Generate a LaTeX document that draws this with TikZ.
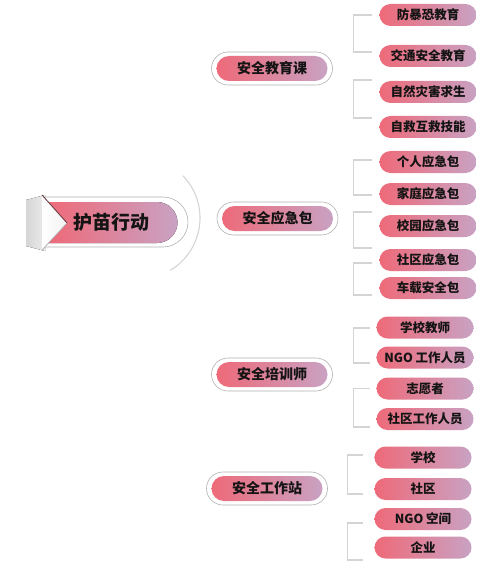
\documentclass[tikz,border=0pt]{standalone}
\usepackage{fontspec}
\setmainfont{Noto Sans CJK SC}
\usetikzlibrary{shapes.misc,calc}
\definecolor{mpink}{HTML}{EE6A79}
\definecolor{mmauve}{HTML}{C9A2C3}
\definecolor{mring}{HTML}{B0B0B0}
\definecolor{mline}{HTML}{D4D4D4}
\definecolor{mtext}{HTML}{141414}
\definecolor{mflap}{HTML}{D6D6D6}
\definecolor{medge}{HTML}{6B3A3E}

\begin{document}
\begin{tikzpicture}[x=1pt,y=-1pt, every node/.style={font=\bfseries,text=mtext}]
    \tikzstyle{topic}=[rounded rectangle,left color=mpink,right color=mmauve,minimum width=111pt,minimum height=25pt,inner sep=0pt,font=\fontsize{14}{16}\bfseries]
    \tikzstyle{ring}=[rounded rectangle,draw=mring,line width=0.6pt,minimum width=121pt,minimum height=33pt,inner sep=0pt]
    \tikzstyle{leaf}=[rounded rectangle,left color=mpink,right color=mmauve,minimum width=97pt,minimum height=22pt,inner sep=0pt,font=\fontsize{12.5}{14}\bfseries]
    \tikzstyle{bracket}=[mline,line width=1.2pt]
    \useasboundingbox (0,0) rectangle (496,564);
    % root flag
    \fill[left color=mflap,right color=mflap!50] (26,200) -- (45,195) -- (45,251) -- (26,246) -- cycle;
    \draw[mring,line width=0.6pt] (42,197) -- (163,197) arc[start angle=-90,end angle=90,radius=25] -- (42,247);
    \fill[left color=mpink,right color=mmauve] (48,202) -- (157,202) arc[start angle=-90,end angle=90,radius=20.5] -- (48,243) -- (67,223) -- cycle;
    \fill[left color=white,right color=gray!10] (42,195) -- (67,223) -- (42,250) -- cycle;
    \draw[medge,line width=0.8pt] (42,195) -- (67,223);
    \draw[gray!60,line width=0.6pt] (67,223) -- (42,250);
    \node[font=\fontsize{19}{21}\bfseries] (root) at (111,222) {护苗行动};
    \draw[mline,line width=1.1pt] ($(root)+(28,-4)$) ++(-44:61) arc[start angle=-44,end angle=59,radius=61];
    % topics
    \node[topic] (jyk) at (272,68.5) {安全教育课};
    \node[ring] (jykr) at (jyk) {};
    \node[topic] (yjb) at (277.5,218.5) {安全应急包};
    \node[ring] (yjbr) at (yjb) {};
    \node[topic] (pxs) at (272,374.5) {安全培训师};
    \node[ring] (pxsr) at (pxs) {};
    \node[topic] (gzz) at (267,488.5) {安全工作站};
    \node[ring] (gzzr) at (gzz) {};
    % leaves
    \node[leaf] (fbk) at (428,15) {防暴恐教育};
    \node[leaf] (jtaq) at (428,56) {交通安全教育};
    \node[leaf] (zrzh) at (428,92) {自然灾害求生};
    \node[leaf] (zjhj) at (428,127) {自救互救技能};
    \node[leaf] (gryj) at (428,162) {个人应急包};
    \node[leaf] (jtyj) at (428,194) {家庭应急包};
    \node[leaf] (xyyj) at (428,226) {校园应急包};
    \node[leaf] (sqyj) at (428,260) {社区应急包};
    \node[leaf] (czaq) at (428,288) {车载安全包};
    \node[leaf] (xxjs) at (425,327.5) {学校教师};
    \node[leaf] (ngory) at (425,357.5) {NGO 工作人员};
    \node[leaf] (zyz) at (425,388.5) {志愿者};
    \node[leaf] (sqgz) at (425,419) {社区工作人员};
    \node[leaf] (xx) at (423,457.5) {学校};
    \node[leaf] (sq) at (423,489) {社区};
    \node[leaf] (ngokj) at (423,519) {NGO 空间};
    \node[leaf] (qy) at (423,547.5) {企业};
    % brackets
    \draw[bracket] ($(fbk.west)+(-7,0)$) -- ++(-19,0) |- ($(jtaq.west)+(-7,-4)$);
    \draw[bracket] ($(zrzh.west)+(-7,-12)$) -- ++(-19,0) |- ($(zjhj.west)+(-7,-9)$);
    \draw[bracket] ($(gryj.west)+(-7,-2)$) -- ++(-19,0) |- ($(jtyj.west)+(-7,1)$);
    \draw[bracket] ($(xyyj.west)+(-7,-14)$) -- ++(-19,0) |- ($(sqyj.west)+(-7,-12)$);
    \draw[bracket] ($(sqyj.west)+(-7,3)$) -- ++(-19,0) |- ($(czaq.west)+(-7,7)$);
    \draw[bracket] ($(xxjs.west)+(-6,0.5)$) -- ++(-17,0) |- ($(ngory.west)+(-6,5.5)$);
    \draw[bracket] ($(zyz.west)+(-6,0)$) -- ++(-17,0) |- ($(sqgz.west)+(-6,8)$);
    \draw[bracket] ($(xx.west)+(-11,-2.5)$) -- ++(-16,0) |- ($(sq.west)+(-11,5)$);
    \draw[bracket] ($(ngokj.west)+(-11,4)$) -- ++(-16,0) |- ($(qy.west)+(-11,12.5)$);
\end{tikzpicture}
\end{document}
